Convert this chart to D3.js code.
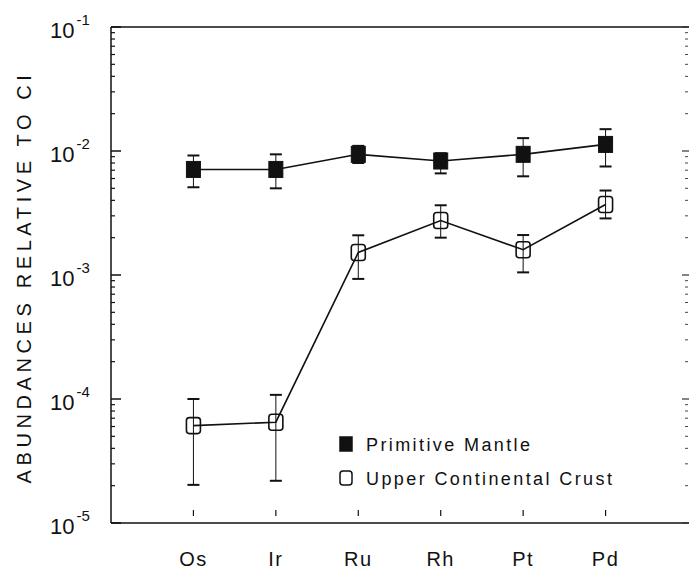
<!DOCTYPE html>
<html>
<head>
<meta charset="utf-8">
<script src="https://cdn.jsdelivr.net/npm/d3@7"></script>
<style>
  body { margin: 0; background: #fff; }
  svg text { font-family: "Liberation Sans", Arial, sans-serif; fill: #111; }
</style>
</head>
<body>
<svg width="690" height="585"></svg>
<script>
// elements along the x axis
var elements = ["Os", "Ir", "Ru", "Rh", "Pt", "Pd"];

// primitive mantle (value, low, high)
var pmValue = [7.1e-3, 7.1e-3, 9.4e-3, 8.3e-3, 9.4e-3, 1.13e-2];
var pmLow   = [5.1e-3, 5.0e-3, 8.0e-3, 6.6e-3, 6.25e-3, 7.5e-3];
var pmHigh  = [9.2e-3, 9.4e-3, 1.1e-2, 9.6e-3, 1.27e-2, 1.5e-2];

// upper continental crust
var uccValue = [6.1e-5, 6.5e-5, 1.52e-3, 2.75e-3, 1.6e-3, 3.7e-3];
var uccLow   = [2.03e-5, 2.19e-5, 9.3e-4, 2.0e-3, 1.05e-3, 2.86e-3];
var uccHigh  = [1.0e-4, 1.08e-4, 2.09e-3, 3.65e-3, 2.1e-3, 4.8e-3];

var yTicks = [1e-5, 1e-4, 1e-3, 1e-2, 1e-1];
var yExp = ["-5", "-4", "-3", "-2", "-1"];

var svg = d3.select("svg");
var ink = "#111";

var x = d3.scaleLinear().domain([0, 7]).range([111, 688]);
var y = d3.scaleLog().domain([1e-5, 1e-1]).range([523, 27]);

// frame: top and bottom lines, left axis
svg.append("line").attr("x1", 111).attr("x2", 689).attr("y1", y(1e-1)).attr("y2", y(1e-1))
    .attr("stroke", ink).attr("stroke-width", 1.5);
svg.append("line").attr("x1", 111).attr("x2", 689).attr("y1", y(1e-5)).attr("y2", y(1e-5))
    .attr("stroke", ink).attr("stroke-width", 1.5);
svg.append("line").attr("x1", 111).attr("x2", 111).attr("y1", y(1e-1)).attr("y2", y(1e-5))
    .attr("stroke", ink).attr("stroke-width", 1.5);

// log ticks, minor and major, on the left and right sides
var minor = [];
yTicks.slice(0, 4).forEach(function(d) {
    for (var k = 2; k < 10; k++) minor.push(d * k);
});
var left = svg.append("g");
left.selectAll(".mn").data(minor).enter().append("line")
    .attr("x1", 111).attr("x2", 115)
    .attr("y1", function(d) { return y(d); }).attr("y2", function(d) { return y(d); })
    .attr("stroke", ink).attr("stroke-width", 1.2);
left.selectAll(".mj").data(yTicks).enter().append("line")
    .attr("x1", 111).attr("x2", 121)
    .attr("y1", function(d) { return y(d); }).attr("y2", function(d) { return y(d); })
    .attr("stroke", ink).attr("stroke-width", 1.5);

var right = svg.append("g");
right.selectAll(".mn").data(minor).enter().append("line")
    .attr("x1", 688).attr("x2", 685)
    .attr("y1", function(d) { return y(d); }).attr("y2", function(d) { return y(d); })
    .attr("stroke", "#444").attr("stroke-width", 1);
right.selectAll(".mj").data(yTicks).enter().append("line")
    .attr("x1", 689).attr("x2", 682)
    .attr("y1", function(d) { return y(d); }).attr("y2", function(d) { return y(d); })
    .attr("stroke", "#333").attr("stroke-width", 1.2);

// y tick labels: 10 with superscript exponent
var lab = svg.selectAll(".ylab").data(yTicks).enter().append("text")
    .attr("x", 50).attr("y", function(d) { return y(d) + 11; })
    .style("font-size", "22px");
lab.append("tspan").text("10");
lab.append("tspan").attr("dy", -13).attr("dx", 2).style("font-size", "15px")
    .text(function(d, i) { return yExp[i]; });

// y axis title
svg.append("text")
    .attr("transform", "translate(31,277) rotate(-90)")
    .attr("text-anchor", "middle")
    .style("font-size", "20px").style("letter-spacing", "4.6px")
    .text("ABUNDANCES RELATIVE TO CI");

// x ticks and labels
svg.selectAll(".xt").data(elements).enter().append("line")
    .attr("x1", function(d, i) { return x(i + 1); }).attr("x2", function(d, i) { return x(i + 1); })
    .attr("y1", 510).attr("y2", 516)
    .attr("stroke", ink).attr("stroke-width", 1.2);
svg.selectAll(".xl").data(elements).enter().append("text")
    .attr("x", function(d, i) { return x(i + 1); }).attr("y", 566)
    .attr("text-anchor", "middle")
    .style("font-size", "20px").style("letter-spacing", "1.5px")
    .text(function(d) { return d; });

function series(vals, lo, hi, filled) {
    var g = svg.append("g");
    var line = d3.line().x(function(d, i) { return x(i + 1); }).y(function(d) { return y(d); });
    // error bars
    vals.forEach(function(v, i) {
        var cx = x(i + 1);
        g.append("line").attr("x1", cx).attr("x2", cx).attr("y1", y(lo[i])).attr("y2", y(hi[i]))
            .attr("stroke", ink).attr("stroke-width", 1);
        [lo[i], hi[i]].forEach(function(e) {
            g.append("line").attr("x1", cx - 6).attr("x2", cx + 6).attr("y1", y(e)).attr("y2", y(e))
                .attr("stroke", ink).attr("stroke-width", 2);
        });
    });
    g.append("path").datum(vals).attr("d", line)
        .attr("fill", "none").attr("stroke", ink).attr("stroke-width", 1.6);
    g.selectAll("rect").data(vals).enter().append("rect")
        .attr("x", function(d, i) { return x(i + 1) - 7; })
        .attr("y", function(d) { return y(d) - 8; })
        .attr("width", 14).attr("height", 16).attr("rx", filled ? 0 : 3)
        .attr("fill", filled ? ink : "#fff")
        .attr("fill-opacity", filled ? 1 : 0)
        .attr("stroke", ink).attr("stroke-width", filled ? 1 : 1.6);
}
series(uccValue, uccLow, uccHigh, false);
series(pmValue, pmLow, pmHigh, true);

// legend
var legend = [["Primitive Mantle", true], ["Upper Continental Crust", false]];
var lg = svg.selectAll(".lg").data(legend).enter().append("g")
    .attr("transform", function(d, i) { return "translate(346," + (444 + i * 34) + ")"; });
lg.append("rect").attr("x", -6).attr("y", -7).attr("width", 12).attr("height", 14)
    .attr("rx", function(d) { return d[1] ? 0 : 3; })
    .attr("fill", function(d) { return d[1] ? ink : "none"; })
    .attr("stroke", ink).attr("stroke-width", 1.5);
lg.append("text").attr("x", 20).attr("y", 7)
    .style("font-size", "18px").style("letter-spacing", "2.4px")
    .text(function(d) { return d[0]; });
</script>
</body>
</html>
